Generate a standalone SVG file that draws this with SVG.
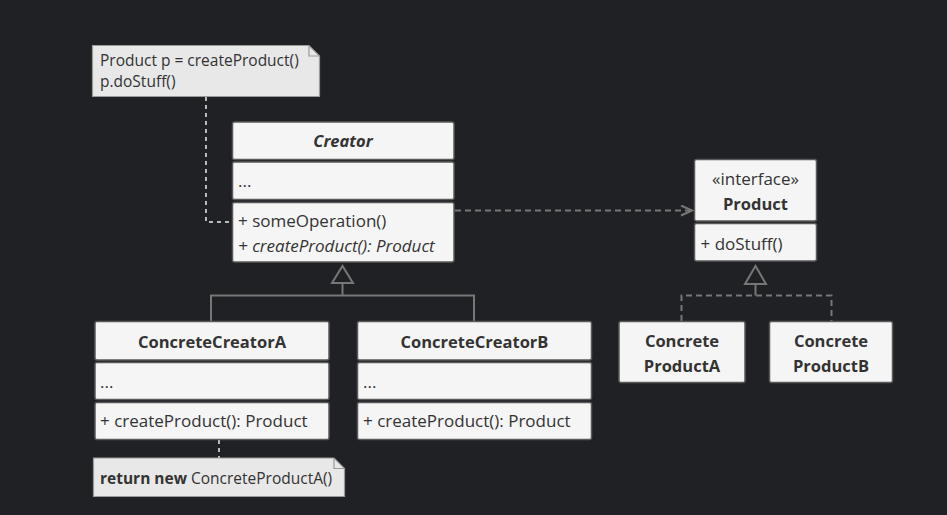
<svg xmlns="http://www.w3.org/2000/svg" width="947" height="515" viewBox="0 0 947 515">
<style>
.bx{fill:#f5f5f5;stroke:#5a5a5a;stroke-width:1.5}
.nt{fill:#e8e8e8;stroke:#9a9a9a;stroke-width:1.2}
text{font-family:"Open Sans","Liberation Sans",sans-serif;fill:#333;font-size:17px}
.b{font-weight:bold;font-size:16.5px}
.c{text-anchor:middle}
.i{font-style:italic}
.s{font-size:15.5px}
.ln{fill:none;stroke:#777;stroke-width:2}
.dl{fill:none;stroke:#777;stroke-width:2;stroke-dasharray:6 4}
.dt{fill:none;stroke:#bbb;stroke-width:2;stroke-dasharray:4 4}
</style>
<defs>
<marker id="open" markerWidth="14" markerHeight="12" refX="12" refY="6" orient="auto" markerUnits="userSpaceOnUse">
<path d="M1,1 L12,6 L1,11" fill="none" stroke="#777" stroke-width="2"/>
</marker>
</defs>
<rect width="947" height="515" fill="#1f2124"/>
<g id="connectors">
<path class="dt" d="M206,97 V222 H232"/>
<path class="dt" d="M219,440 V458"/>
<path class="dl" d="M455,210.5 H692" marker-end="url(#open)"/>
<path class="ln" d="M211,321 V295.5 H474 V321 M342.5,295.5 V283"/>
<path class="ln" d="M332,283 L342.5,266 L353,283 Z" fill="#1f2124"/>
<path class="dl" d="M681.5,321 V295.5 H831.5 V321"/>
<path class="ln" d="M755.5,295.5 V284"/>
<path class="ln" d="M745,284 L755.5,266 L766,284 Z" fill="#1f2124"/>
</g>
<g id="note1">
<path class="nt" d="M92.5,45.5 H309 L319.5,56 V96.5 H92.5 Z"/>
<path d="M309,45.5 V56 H319.5" fill="none" stroke="#9a9a9a" stroke-width="1.2"/>
<text class="s" x="100" y="66">Product p = createProduct()</text>
<text class="s" x="100" y="87">p.doStuff()</text>
</g>
<g id="creator">
<rect class="bx" x="232.5" y="122" width="221.5" height="37.5" rx="2"/>
<rect class="bx" x="232.5" y="162" width="221.5" height="37.5" rx="2"/>
<rect class="bx" x="232.5" y="202.5" width="221.5" height="59.5" rx="2"/>
<text class="b i c" x="343" y="146.5">Creator</text>
<text x="238" y="187">...</text>
<text x="238" y="226.5">+ someOperation()</text>
<text class="i" x="238" y="251.5">+ createProduct(): Product</text>
</g>
<g id="product">
<rect class="bx" x="694.5" y="159.5" width="122" height="61.5" rx="2"/>
<rect class="bx" x="694.5" y="223.5" width="122" height="37.5" rx="2"/>
<text class="c" x="755.5" y="185">«interface»</text>
<text class="b c" x="755.5" y="210">Product</text>
<text x="700.5" y="249.5">+ doStuff()</text>
</g>
<g id="concreteCreatorA">
<rect class="bx" x="95" y="321.5" width="234" height="38.5" rx="2"/>
<rect class="bx" x="95" y="362.5" width="234" height="37" rx="2"/>
<rect class="bx" x="95" y="402.5" width="234" height="37" rx="2"/>
<text class="b c" x="212" y="347.5">ConcreteCreatorA</text>
<text x="100" y="388">...</text>
<text x="100" y="426.5">+ createProduct(): Product</text>
</g>
<g id="concreteCreatorB">
<rect class="bx" x="357.5" y="321.5" width="234" height="38.5" rx="2"/>
<rect class="bx" x="357.5" y="362.5" width="234" height="37" rx="2"/>
<rect class="bx" x="357.5" y="402.5" width="234" height="37" rx="2"/>
<text class="b c" x="474.5" y="347.5">ConcreteCreatorB</text>
<text x="363" y="388">...</text>
<text x="363" y="426.5">+ createProduct(): Product</text>
</g>
<g id="concreteProductA">
<rect class="bx" x="619" y="321.5" width="126" height="61" rx="2"/>
<text class="b c" x="682" y="346.5">Concrete</text>
<text class="b c" x="682" y="371.5">ProductA</text>
</g>
<g id="concreteProductB">
<rect class="bx" x="769.5" y="321.5" width="123" height="61" rx="2"/>
<text class="b c" x="831" y="346.5">Concrete</text>
<text class="b c" x="831" y="371.5">ProductB</text>
</g>
<g id="note2">
<path class="nt" d="M93.5,458 H334 L344.5,468.5 V496.5 H93.5 Z"/>
<path d="M334,458 V468.5 H344.5" fill="none" stroke="#9a9a9a" stroke-width="1.2"/>
<text class="s" x="100" y="484"><tspan class="b" style="font-size:15.5px">return new</tspan> ConcreteProductA()</text>
</g>
</svg>
